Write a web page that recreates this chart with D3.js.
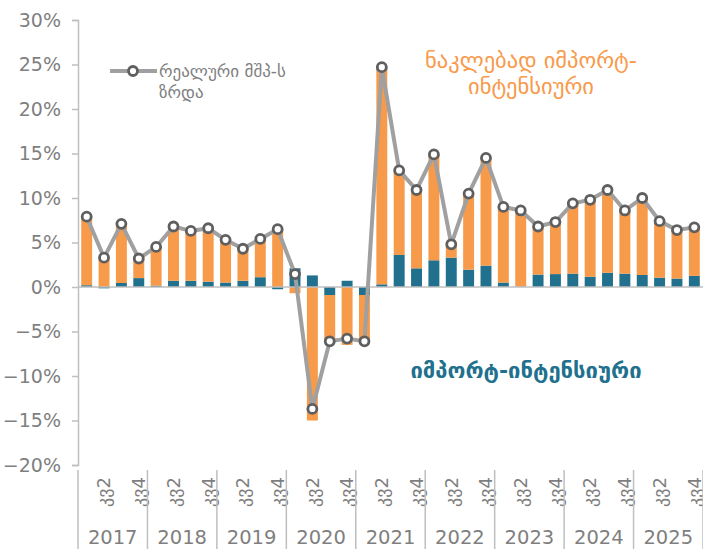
<!DOCTYPE html>
<html lang="ka">
<head>
  <meta charset="utf-8"/>
  <title>რეალური მშპ-ს ზრდა</title>
  <script src="https://d3js.org/d3.v7.min.js"></script>
  <style>
    body { margin: 0; background: #fff; }
    svg text { font-family: "DejaVu Sans", sans-serif; }
  </style>
</head>
<body>
<svg id="chart" width="703" height="549"></svg>

<script type="text/javascript">
  // data, 2017 Q1 .. 2025 Q4
  const years = ["2017", "2018", "2019", "2020", "2021", "2022", "2023", "2024", "2025"];
  const quarters = ["კვ1", "კვ2", "კვ3", "კვ4"];
  const shownQuarters = ["კვ2", "კვ4"];

  const importIntensive = [0.2, -0.15, 0.45, 1.0, 0.15, 0.7, 0.7, 0.6, 0.5, 0.7, 1.1, -0.25,
    2.1, 1.3, -0.9, 0.7, -0.9, 0.3, 3.6, 2.1, 3.0, 3.3, 1.95, 2.4,
    0.5, 0.05, 1.4, 1.45, 1.5, 1.15, 1.6, 1.5, 1.35, 1.05, 0.95, 1.25];
  const lessImportIntensive = [7.7, 3.3, 6.65, 2.2, 4.35, 6.1, 5.6, 6.0, 4.8, 3.6, 4.3, 6.5,
    -0.7, -15.0, -5.3, -6.5, -5.3, 24.4, 9.5, 8.8, 11.9, 1.5, 8.55, 12.1,
    8.5, 8.55, 5.4, 5.85, 7.9, 8.65, 9.3, 7.1, 8.65, 6.35, 5.45, 5.45];
  const gdpGrowth = [7.9, 3.3, 7.1, 3.2, 4.5, 6.8, 6.3, 6.6, 5.3, 4.3, 5.4, 6.5,
    1.45, -13.7, -6.1, -5.8, -6.1, 24.7, 13.1, 10.9, 14.9, 4.8, 10.5, 14.5,
    9.0, 8.6, 6.8, 7.3, 9.4, 9.8, 10.9, 8.6, 10.0, 7.4, 6.4, 6.7];
  const yTicks = [-0.20, -0.15, -0.10, -0.05, 0, 0.05, 0.10, 0.15, 0.20, 0.25, 0.30];

  const teal = "#21708d";
  const orange = "#f79a4a";
  const textGray = "#7f7f7f";
  const axisGray = "#bfbfbf";

  const svg = d3.select("#chart");
  const plotLeft = 78, plotRight = 703, plotTop = 20, plotBottom = 465;

  // one row per quarter
  const rows = [];
  years.forEach(function(yr, yi) {
    quarters.forEach(function(q, qi) {
      const i = yi * 4 + qi;
      rows.push({
        id: i, year: yr, quarter: q,
        imp: importIntensive[i] / 100,
        less: lessImportIntensive[i] / 100,
        gdp: gdpGrowth[i] / 100
      });
    });
  });

  const x = d3.scaleBand()
    .domain(rows.map(d => d.id))
    .range([plotLeft, plotRight])
    .paddingInner(0.37)
    .paddingOuter(0.185);

  const y = d3.scaleLinear()
    .domain([-0.20, 0.30])
    .range([plotBottom, plotTop]);

  // y axis
  const yAxis = svg.append("g")
    .attr("transform", `translate(${plotLeft},0)`)
    .call(d3.axisLeft(y).tickValues(yTicks).tickFormat(d3.format(".0%")).tickSize(6).tickPadding(11));
  yAxis.select(".domain").attr("stroke", axisGray).attr("stroke-width", 1.5);
  yAxis.selectAll(".tick line").attr("stroke", axisGray).attr("stroke-width", 1.5);
  yAxis.selectAll(".tick text")
    .attr("fill", textGray)
    .style("font-size", "19px");

  // stacked bars
  const stack = d3.stack()
    .keys(["imp", "less"])
    .offset(d3.stackOffsetDiverging);
  const series = stack(rows);
  const colors = { imp: teal, less: orange };

  svg.append("g").selectAll("g")
    .data(series)
    .join("g")
    .attr("fill", s => colors[s.key])
    .selectAll("rect")
    .data(s => s)
    .join("rect")
    .attr("x", d => x(d.data.id))
    .attr("width", x.bandwidth())
    .attr("y", d => y(Math.max(d[0], d[1])))
    .attr("height", d => Math.abs(y(d[0]) - y(d[1])));

  // zero line
  svg.append("line")
    .attr("x1", plotLeft).attr("x2", plotRight)
    .attr("y1", y(0)).attr("y2", y(0))
    .attr("stroke", axisGray)
    .attr("stroke-width", 1.5);

  // GDP line
  const line = d3.line()
    .x(d => x(d.id) + x.bandwidth() / 2)
    .y(d => y(d.gdp));

  svg.append("path")
    .datum(rows)
    .attr("d", line)
    .attr("fill", "none")
    .attr("stroke", "#a0a0a0")
    .attr("stroke-width", 4)
    .attr("stroke-linejoin", "round");

  svg.append("g").selectAll("circle")
    .data(rows)
    .join("circle")
    .attr("cx", d => x(d.id) + x.bandwidth() / 2)
    .attr("cy", d => y(d.gdp))
    .attr("r", 4.5)
    .attr("fill", "#fff")
    .attr("stroke", "#5f5f5f")
    .attr("stroke-width", 2.8);

  // category labels (multi-level)
  const catG = svg.append("g");
  catG.selectAll("text.q")
    .data(rows.filter(d => shownQuarters.includes(d.quarter)))
    .join("text")
    .attr("class", "q")
    .attr("transform", d => `translate(${x(d.id) + x.bandwidth() / 2},477) rotate(-90)`)
    .attr("text-anchor", "end")
    .attr("dy", "0.35em")
    .attr("fill", textGray)
    .style("font-size", "18px")
    .text(d => d.quarter);

  const yearW = (plotRight - plotLeft) / years.length;
  catG.selectAll("text.yr")
    .data(years)
    .join("text")
    .attr("class", "yr")
    .attr("x", (d, i) => plotLeft + yearW * (i + 0.5))
    .attr("y", 544)
    .attr("text-anchor", "middle")
    .attr("fill", textGray)
    .style("font-size", "19.5px")
    .text(d => d);

  catG.selectAll("line.sep")
    .data(d3.range(years.length + 1))
    .join("line")
    .attr("class", "sep")
    .attr("x1", i => plotLeft + yearW * i).attr("x2", i => plotLeft + yearW * i)
    .attr("y1", 470).attr("y2", 549)
    .attr("stroke", axisGray)
    .attr("stroke-width", 1.5);

  // legend
  const lg = svg.append("g");
  lg.append("line")
    .attr("x1", 110).attr("x2", 157)
    .attr("y1", 71).attr("y2", 71)
    .attr("stroke", "#a0a0a0").attr("stroke-width", 4);
  lg.append("circle")
    .attr("cx", 133).attr("cy", 71).attr("r", 4.5)
    .attr("fill", "#fff").attr("stroke", "#5f5f5f").attr("stroke-width", 2.8);
  lg.append("text")
    .attr("x", 159).attr("y", 77)
    .attr("fill", textGray)
    .style("font-size", "17px")
    .text("რეალური მშპ-ს");
  lg.append("text")
    .attr("x", 159).attr("y", 98)
    .attr("fill", textGray)
    .style("font-size", "17px")
    .text("ზრდა");

  // annotations
  svg.append("text")
    .attr("x", 531).attr("y", 68)
    .attr("text-anchor", "middle")
    .attr("fill", orange)
    .style("font-size", "22.5px")
    .text("ნაკლებად იმპორტ-");
  svg.append("text")
    .attr("x", 531).attr("y", 94)
    .attr("text-anchor", "middle")
    .attr("fill", orange)
    .style("font-size", "22.5px")
    .text("ინტენსიური");
  svg.append("text")
    .attr("x", 526).attr("y", 378)
    .attr("text-anchor", "middle")
    .attr("fill", teal)
    .style("font-size", "22px")
    .style("font-weight", "bold")
    .text("იმპორტ-ინტენსიური");
</script>
</body>
</html>
